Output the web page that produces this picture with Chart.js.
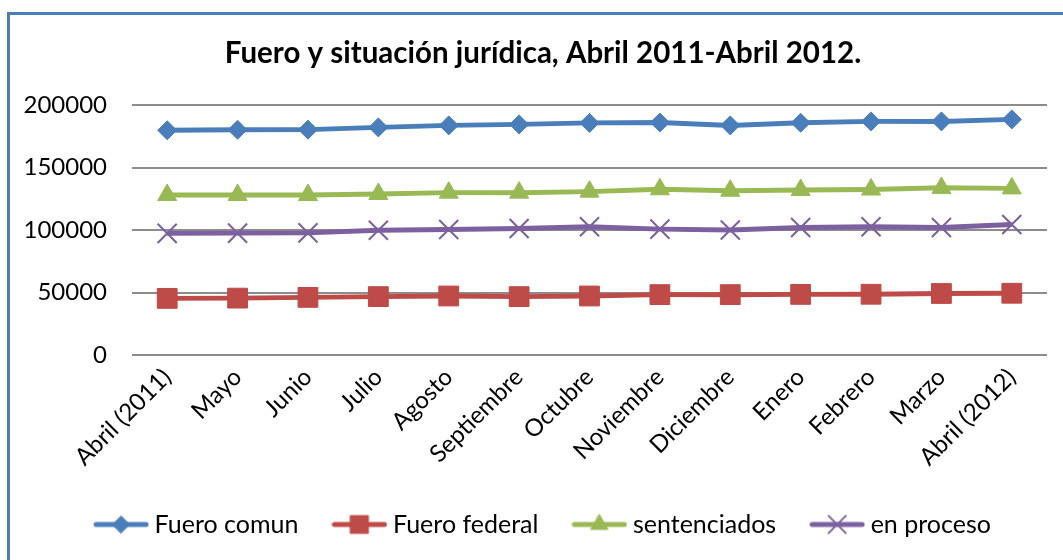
<!DOCTYPE html>
<html>
<head>
<meta charset="utf-8">
<script src="https://cdn.jsdelivr.net/npm/chart.js@4"></script>
<style>
  html, body { margin: 0; padding: 0; background: #fff; overflow: hidden; }
  /* marco azul del gráfico, recortado a la derecha y abajo como en la imagen */
  #frame { position: absolute; left: 7px; top: 12px; width: 1072px; height: 560px;
           border: 3px solid #4a7ebb; border-right: none; border-bottom: none; }
  #chart { display: block; }
</style>
</head>
<body>
<div id="frame"><canvas id="chart" width="1072" height="545"></canvas></div>
<script>
const titulo = 'Fuero y situación jurídica, Abril 2011-Abril 2012.';
const meses = ['Abril (2011)', 'Mayo', 'Junio', 'Julio', 'Agosto', 'Septiembre', 'Octubre',
               'Noviembre', 'Diciembre', 'Enero', 'Febrero', 'Marzo', 'Abril (2012)'];

const fueroComun   = [179800, 180200, 180300, 182100, 183700, 184500, 185700, 186000, 183700, 185800, 186900, 186900, 188500];
const fueroFederal = [45300, 45500, 46100, 46700, 47200, 46700, 47200, 48300, 48300, 48500, 48600, 49200, 49400];
const sentenciados = [128000, 128000, 128000, 128800, 129900, 129900, 130700, 132600, 131400, 132000, 132400, 133700, 133300];
const enProceso    = [97300, 97500, 97700, 99800, 100400, 101200, 102600, 100700, 100000, 102000, 102600, 102000, 104400];

const yTicks = [0, 50000, 100000, 150000, 200000];

const fuente = 'Lato';

function serie(label, data, color, estilo, radio, borde) {
  return {
    label: label,
    data: data,
    borderColor: color,
    backgroundColor: color,
    borderWidth: 5,
    tension: 0,
    pointStyle: estilo,
    pointRadius: radio,
    pointHoverRadius: radio,
    pointBackgroundColor: color,
    pointBorderColor: color,
    pointBorderWidth: borde
  };
}

// imagen de la leyenda: línea con el marcador en el centro
function imagenLeyenda(ds) {
  const c = document.createElement('canvas');
  c.width = 56; c.height = 28;
  const ctx = c.getContext('2d');
  ctx.strokeStyle = ds.borderColor;
  ctx.lineWidth = 5;
  ctx.lineCap = 'round';
  ctx.beginPath();
  ctx.moveTo(3, 14);
  ctx.lineTo(53, 14);
  ctx.stroke();
  ctx.fillStyle = ds.pointBackgroundColor;
  ctx.strokeStyle = ds.pointBorderColor;
  ctx.lineWidth = ds.pointBorderWidth;
  Chart.helpers.drawPoint(ctx, {
    pointStyle: ds.pointStyle, radius: ds.pointRadius * 0.9, rotation: 0, borderWidth: ds.pointBorderWidth
  }, 28, 14);
  return c;
}

const datasets = [
  serie('Fuero comun', fueroComun, '#4a7ebb', 'rectRot', 9.5, 1),
  serie('Fuero federal', fueroFederal, '#be4b48', 'rect', 14, 1),
  serie('sentenciados', sentenciados, '#98b954', 'triangle', 11, 1),
  serie('en proceso', enProceso, '#7d60a0', 'crossRot', 13.5, 2)
];

// título y leyenda van centrados en todo el marco, no sólo en el área del gráfico
const centrarEnMarco = {
  id: 'centrarEnMarco',
  afterLayout: chart => {
    chart.legend.right += 34;
    chart.titleBlock.right += 29;
  }
};

new Chart(document.getElementById('chart'), {
  type: 'line',
  data: { labels: meses, datasets: datasets },
  plugins: [centrarEnMarco],
  options: {
    responsive: false,
    animation: false,
    layout: { padding: { left: 0, right: 35, top: 0, bottom: 13 } },
    plugins: {
      title: {
        display: true,
        text: titulo,
        color: '#000',
        font: { family: fuente, size: 29.5, weight: 'bold' },
        padding: { top: 20.3, bottom: 34.3 }
      },
      legend: {
        position: 'bottom',
        labels: {
          usePointStyle: true,
          pointStyleWidth: 42,
          padding: 40,
          color: '#000',
          font: { family: fuente, size: 25 },
          generateLabels: chart => chart.data.datasets.map((ds, i) => ({
            text: ds.label,
            pointStyle: imagenLeyenda(ds),
            fillStyle: ds.borderColor,
            strokeStyle: ds.borderColor,
            lineWidth: 0,
            hidden: false,
            datasetIndex: i
          }))
        }
      },
      tooltip: { enabled: false }
    },
    scales: {
      x: {
        offset: true,
        grid: { display: false, drawTicks: false },
        border: { display: false },
        ticks: {
          color: '#000',
          font: { family: fuente, size: 24 },
          minRotation: 45,
          maxRotation: 45,
          autoSkip: false,
          padding: 8
        },
        afterFit: s => { s.height = 117; }
      },
      y: {
        min: 0,
        max: 200000,
        grid: { color: '#8c8c8c', lineWidth: 2, drawTicks: false },
        border: { display: false },
        afterBuildTicks: s => { s.ticks = yTicks.map(v => ({ value: v })); },
        ticks: {
          color: '#000',
          font: { family: fuente, size: 24 },
          padding: 25,
          callback: v => String(v)
        },
        afterFit: s => { s.width = 122; }
      }
    }
  }
});
</script>
</body>
</html>
